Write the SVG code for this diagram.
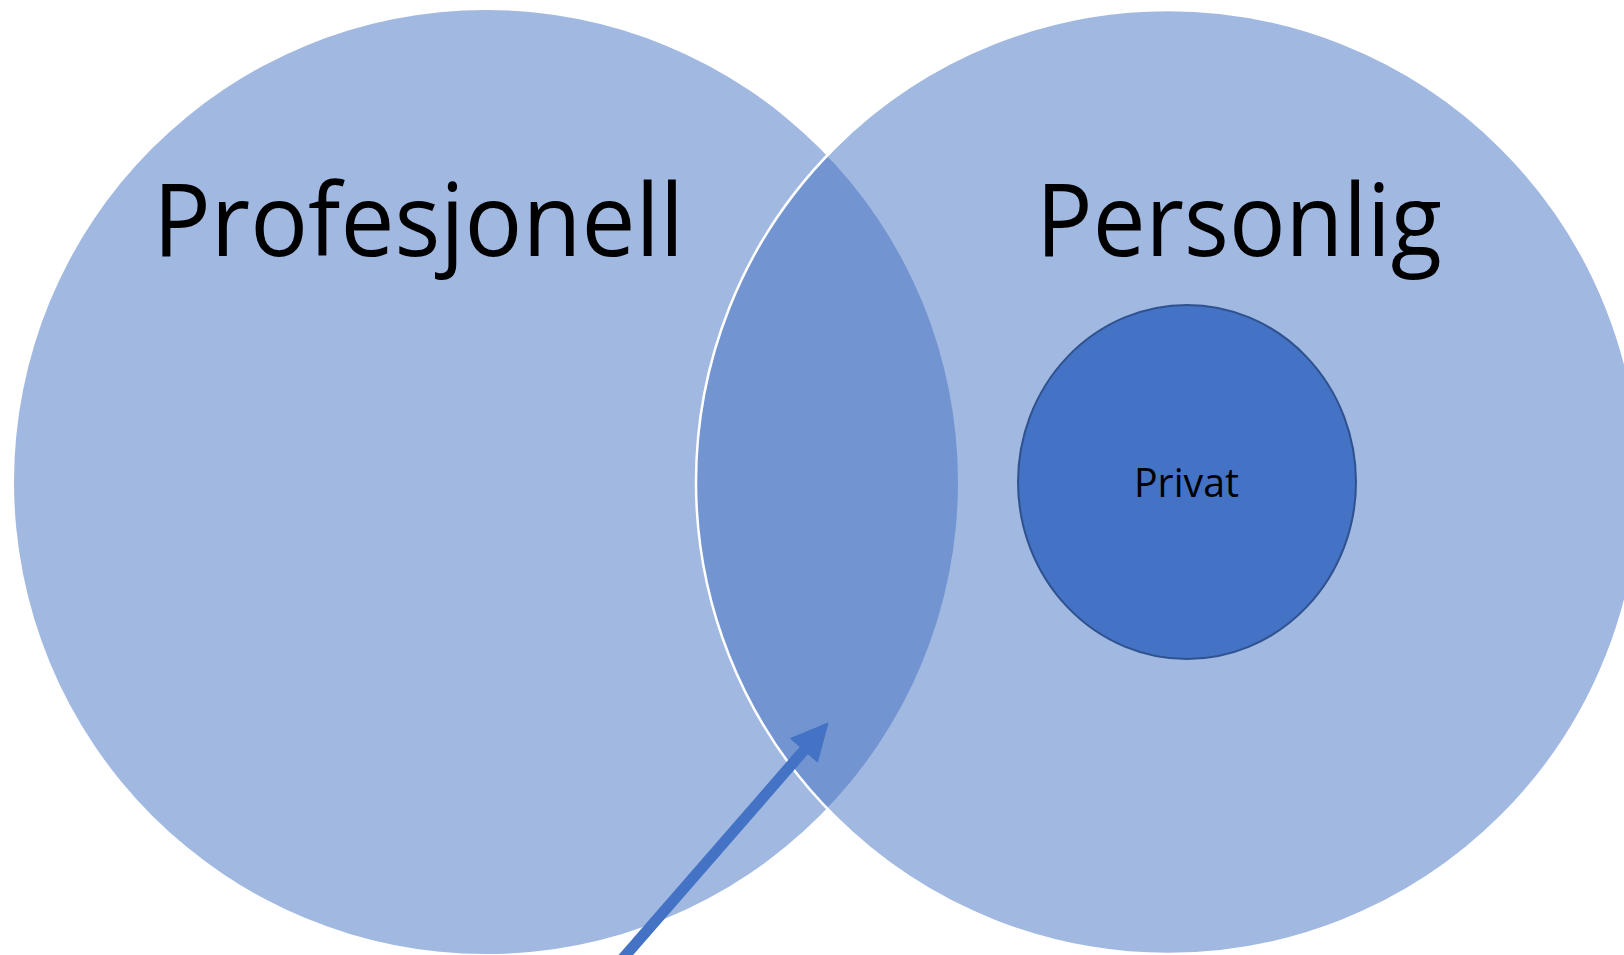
<svg xmlns="http://www.w3.org/2000/svg" width="1624" height="955" viewBox="0 0 1624 955">
<style>
.big{fill:#4472C4;fill-opacity:0.5}
.lbl{font-family:"Open Sans","Liberation Sans",sans-serif;fill:#000}
.conn{stroke:#4472C4;fill:#4472C4}
</style>
<rect width="1624" height="955" fill="#fff"/>
<g id="profesjonell">
<circle class="big" cx="486" cy="482" r="472"/>
<text class="lbl" x="153" y="256" font-size="100" textLength="531" lengthAdjust="spacingAndGlyphs">Profesjonell</text>
</g>
<g id="personlig">
<circle class="big" cx="1168" cy="482" r="472" stroke="#fff" stroke-width="2.5"/>
<text class="lbl" x="1036" y="256" font-size="100" textLength="406" lengthAdjust="spacingAndGlyphs">Personlig</text>
</g>
<g id="privat">
<ellipse cx="1187" cy="482" rx="169" ry="177" fill="#4472C4" stroke="#2F528F" stroke-width="2"/>
<text class="lbl" x="1134" y="497" font-size="40" textLength="105" lengthAdjust="spacingAndGlyphs">Privat</text>
</g>
<g id="connectors">
<line class="conn" x1="618" y1="964" x2="806" y2="748" stroke-width="11"/>
<polygon class="conn" stroke="none" points="828,723 790.5,738.5 817.5,762"/>
</g>
</svg>
